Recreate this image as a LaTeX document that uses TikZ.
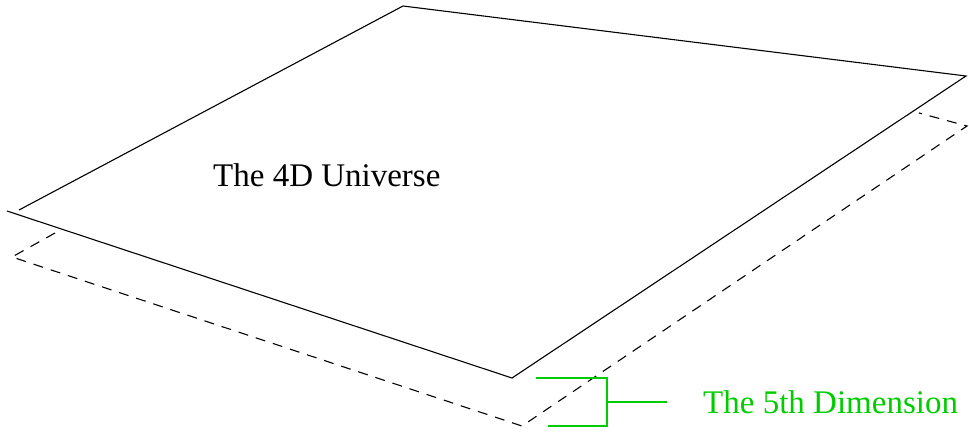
\documentclass[tikz,border=0pt]{standalone}
\usepackage{fontspec}
\setmainfont{Liberation Serif}
\definecolor{figgreen}{RGB}{0,205,0}
\tikzset{
  solidedge/.style={line width=1.1pt, line join=miter},
  dashededge/.style={line width=1.1pt, dash pattern=on 10pt off 8pt},
  bracket/.style={line width=1.1pt, draw=figgreen},
  label/.style={inner sep=0pt, font=\fontsize{33}{40}\selectfont}
}
\begin{document}
\begin{tikzpicture}[x=1pt,y=-1pt]
\useasboundingbox (0,0) rectangle (969,431);
% solid sheet corners
\coordinate (sA) at (19,210);
\coordinate (sT) at (403,6);
\coordinate (sR) at (966,76);
\coordinate (sB) at (512,378);
\coordinate (sL) at (7,211);
\draw[solidedge] (sA) -- (sT) -- (sR) -- (sB) -- (sL);
% dashed sheet
\coordinate (dS) at (55,233);
\coordinate (dL) at (12,257);
\coordinate (dB) at (522,426);
\coordinate (dR) at (967,126);
\coordinate (dE) at (919,113);
\draw[dashededge] (dS) -- (dL) -- (dB) -- (dR) -- (dE);
% bracket
\coordinate (bT1) at (536,378);
\coordinate (bT2) at (607,378);
\coordinate (bB1) at (548,426);
\coordinate (bB2) at (607,426);
\coordinate (bM) at (607,402);
\coordinate (bE) at (667,402);
\draw[bracket] (bT1) -- (bT2) -- (bB2) -- (bB1);
\draw[bracket] (bM) -- (bE);
% labels
\node[label, anchor=base west] (uni) at (213,186) {The 4D Universe};
\node[label, anchor=base west, text=figgreen] (dim) at (703,413) {The 5th Dimension};
\end{tikzpicture}
\end{document}
